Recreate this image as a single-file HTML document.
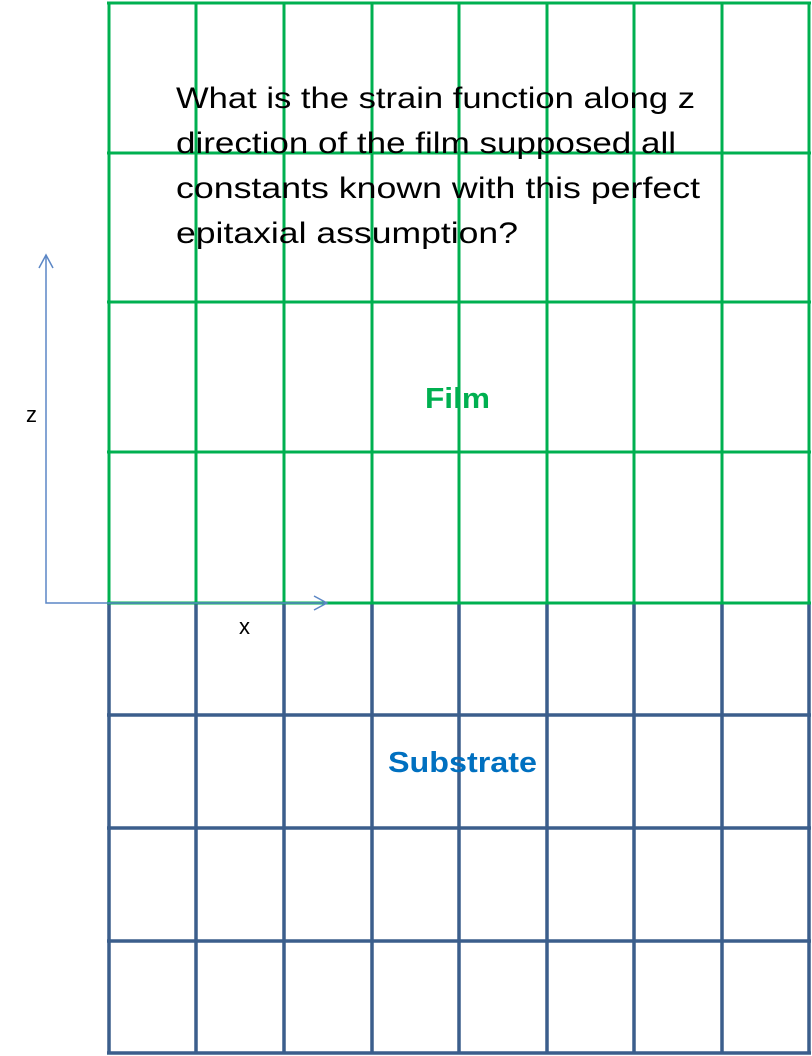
<!DOCTYPE html>
<html><head><style>html,body{margin:0;padding:0;background:#fff;}svg{display:block;}</style></head>
<body>
<svg width="812" height="1056" xmlns="http://www.w3.org/2000/svg" font-family="Liberation Sans, sans-serif">
<g stroke="#3b5e8c" stroke-width="3.5">
<line x1="109" y1="602" x2="109" y2="1053"/><line x1="196" y1="602" x2="196" y2="1053"/>
<line x1="284" y1="602" x2="284" y2="1053"/><line x1="372" y1="602" x2="372" y2="1053"/>
<line x1="459" y1="602" x2="459" y2="1053"/><line x1="547" y1="602" x2="547" y2="1053"/>
<line x1="634" y1="602" x2="634" y2="1053"/><line x1="722" y1="602" x2="722" y2="1053"/>
<line x1="809" y1="602" x2="809" y2="1053"/>
<line x1="107" y1="715" x2="811" y2="715"/><line x1="107" y1="828" x2="811" y2="828"/>
<line x1="107" y1="941" x2="811" y2="941"/><line x1="107" y1="1053" x2="811" y2="1053"/>
</g>
<g stroke="#00b050" stroke-width="3">
<line x1="109" y1="2" x2="109" y2="603"/><line x1="196" y1="2" x2="196" y2="603"/>
<line x1="284" y1="2" x2="284" y2="603"/><line x1="372" y1="2" x2="372" y2="603"/>
<line x1="459" y1="2" x2="459" y2="603"/><line x1="547" y1="2" x2="547" y2="603"/>
<line x1="634" y1="2" x2="634" y2="603"/><line x1="722" y1="2" x2="722" y2="603"/>
<line x1="809" y1="2" x2="809" y2="603"/>
<line x1="107" y1="3" x2="811" y2="3"/><line x1="107" y1="153" x2="811" y2="153"/>
<line x1="107" y1="302" x2="811" y2="302"/><line x1="107" y1="452" x2="811" y2="452"/>
<line x1="107" y1="603" x2="811" y2="603"/>
</g>
<g stroke="#5b86c5" stroke-width="1.5" fill="none">
<polyline points="46,255 46,603 327,603"/>
<polyline points="39,268 46,255 53,268"/>
<polyline points="314,596 327,603 314,610"/>
</g>
<g font-size="30" fill="#000">
<text x="176" y="108" textLength="519" lengthAdjust="spacingAndGlyphs">What is the strain function along z</text>
<text x="176" y="153" textLength="500" lengthAdjust="spacingAndGlyphs">direction of the film supposed all</text>
<text x="176" y="198" textLength="524" lengthAdjust="spacingAndGlyphs">constants known  with this perfect</text>
<text x="176" y="243" textLength="342" lengthAdjust="spacingAndGlyphs">epitaxial assumption?</text>
<text x="26" y="422" font-size="22">z</text>
<text x="239" y="634" font-size="22">x</text>
</g>
<text x="425" y="408" font-size="29" font-weight="bold" fill="#00b050" textLength="65" lengthAdjust="spacingAndGlyphs">Film</text>
<text x="388" y="772" font-size="29" font-weight="bold" fill="#0070c0" textLength="149" lengthAdjust="spacingAndGlyphs">Substrate</text>
</svg>
</body></html>
